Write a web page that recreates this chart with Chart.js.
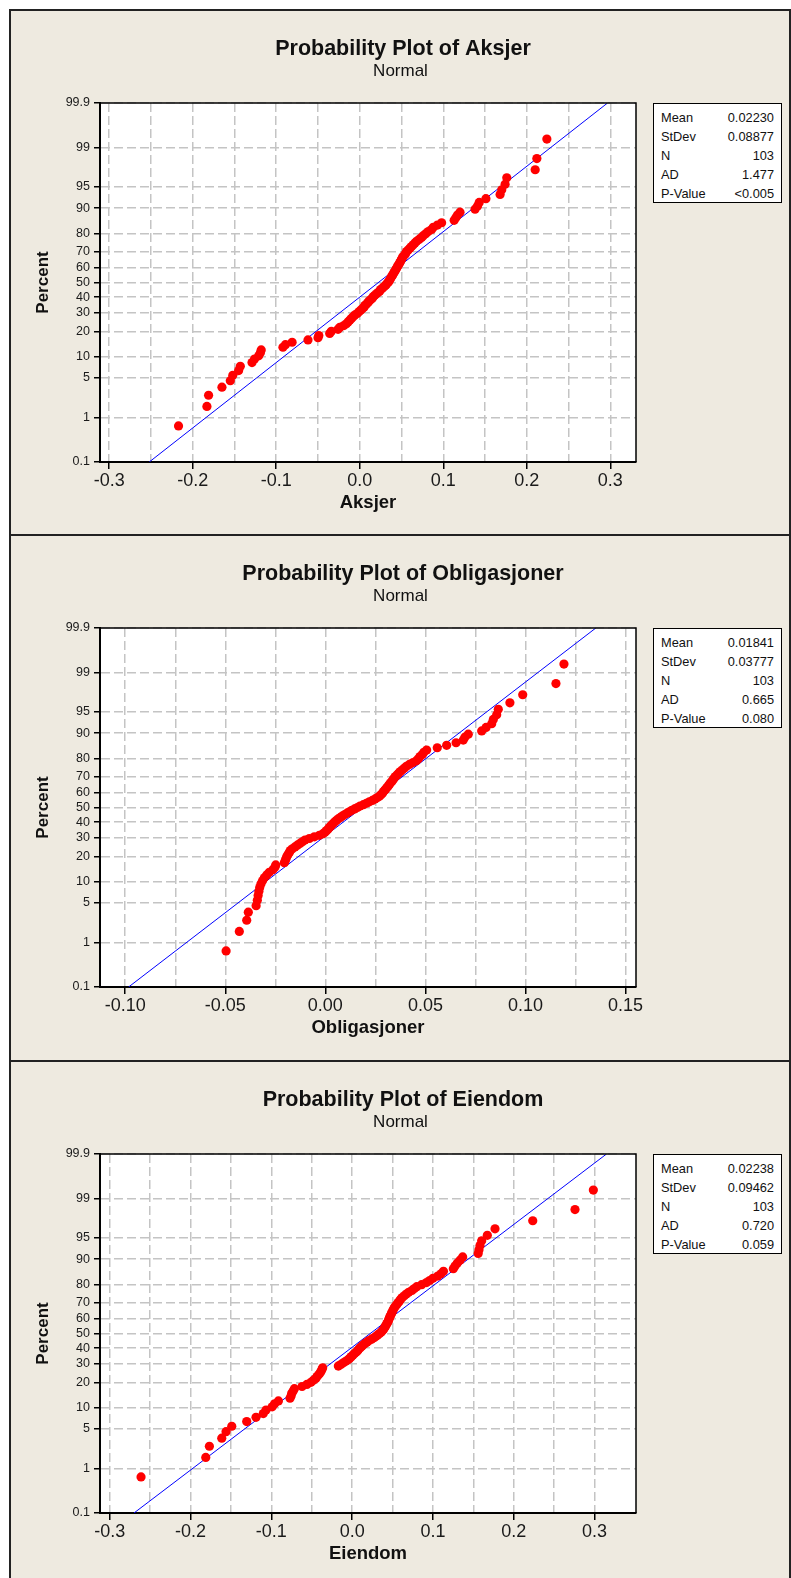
<!DOCTYPE html>
<html lang="no">
<head>
<meta charset="utf-8">
<title>Probability Plots</title>
<script src="https://cdn.jsdelivr.net/npm/chart.js@4/dist/chart.umd.min.js"></script>
<style>
  html, body { margin: 0; padding: 0; background: #fff; }
  body { position: relative; width: 791px; height: 1578px; overflow: hidden; font-family: 'Liberation Sans', Arial, sans-serif; }
  .panel { position: absolute; left: 9px; width: 781px; height: 526px; background: #eeeae0; }
  .panel canvas { position: absolute; left: 0; top: 0; }
  .rule { position: absolute; background: #222; }
  .stats { position: absolute; left: 644px; top: 93px; width: 129px; height: 100px; box-sizing: border-box;
           border: 1.5px solid #000; background: #fff; padding: 3.5px 7px 0 7px; font-size: 12.8px; color: #111; }
  .stats div { display: flex; justify-content: space-between; height: 19.2px; line-height: 19.2px; }
</style>
</head>
<body>
<div class="panel" style="top:10px"><canvas id="aksjer" width="781" height="526"></canvas><div class="stats" id="aksjer-stats"></div></div>
<div class="panel" style="top:535px"><canvas id="oblig" width="781" height="526"></canvas><div class="stats" id="oblig-stats"></div></div>
<div class="panel" style="top:1061px;height:530px"><canvas id="eiendom" width="781" height="526"></canvas><div class="stats" id="eiendom-stats"></div></div>

<div class="rule" style="left:9px;top:9px;width:782px;height:2px"></div>
<div class="rule" style="left:9px;top:534px;width:782px;height:2px"></div>
<div class="rule" style="left:9px;top:1060px;width:782px;height:2px"></div>
<div class="rule" style="left:9px;top:9px;width:1.5px;height:1569px"></div>
<div class="rule" style="left:789px;top:9px;width:2px;height:1569px"></div>

<script>
// probability axis (normal scale), percent labels
const PERCENT_TICKS = [0.1, 1, 5, 10, 20, 30, 40, 50, 60, 70, 80, 90, 95, 99, 99.9];
const STAT_NAMES = ['Mean', 'StDev', 'N', 'AD', 'P-Value'];

// ---- Aksjer ----
const AKSJER = [
  -0.217, -0.183, -0.181, -0.165, -0.155, -0.152, -0.145, -0.143, -0.129, -0.126,
  -0.121, -0.119, -0.118, -0.092, -0.089, -0.081, -0.062, -0.050, -0.049, -0.036,
  -0.034, -0.026, -0.024, -0.019, -0.016, -0.014, -0.012, -0.010, -0.008, -0.006,
  -0.003, -0.001, 0.001, 0.003, 0.005, 0.006, 0.008, 0.010, 0.011, 0.013,
  0.015, 0.016, 0.018, 0.020, 0.022, 0.024, 0.025, 0.027, 0.029, 0.031,
  0.032, 0.034, 0.035, 0.036, 0.037, 0.038, 0.039, 0.040, 0.041, 0.042,
  0.043, 0.044, 0.045, 0.046, 0.047, 0.048, 0.049, 0.050, 0.051, 0.052,
  0.054, 0.055, 0.056, 0.058, 0.060, 0.062, 0.064, 0.066, 0.068, 0.071,
  0.074, 0.076, 0.079, 0.082, 0.086, 0.088, 0.093, 0.098, 0.113, 0.115,
  0.117, 0.120, 0.138, 0.141, 0.143, 0.151, 0.168, 0.170, 0.174, 0.176,
  0.210, 0.212, 0.224
];
const AKSJER_STATS = ['0.02230', '0.08877', '103', '1.477', '<0.005'];
const AKSJER_XTICKS = [-0.3, -0.25, -0.2, -0.15, -0.1, -0.05, 0, 0.05, 0.1, 0.15, 0.2, 0.25, 0.3];
const AKSJER_XLABELS = ['-0.3', '', '-0.2', '', '-0.1', '', '0.0', '', '0.1', '', '0.2', '', '0.3'];

// ---- Obligasjoner ----
const OBLIG = [
  -0.0496, -0.0430, -0.0393, -0.0385, -0.0346, -0.0340, -0.0336, -0.0332, -0.0328, -0.0322,
  -0.0314, -0.0305, -0.0293, -0.0280, -0.0262, -0.0252, -0.0248, -0.0205, -0.0200, -0.0196,
  -0.0192, -0.0186, -0.0180, -0.0175, -0.0165, -0.0152, -0.0140, -0.0127, -0.0115, -0.0102,
  -0.0080, -0.0055, -0.0030, -0.0012, -0.0002, 0.0006, 0.0014, 0.0020, 0.0026, 0.0033,
  0.0040, 0.0048, 0.0056, 0.0065, 0.0075, 0.0085, 0.0097, 0.0108, 0.0120, 0.0132,
  0.0146, 0.0160, 0.0173, 0.0190, 0.0205, 0.0220, 0.0235, 0.0248, 0.0260, 0.0270,
  0.0278, 0.0285, 0.0290, 0.0296, 0.0302, 0.0308, 0.0314, 0.0320, 0.0326, 0.0333,
  0.0338, 0.0343, 0.0350, 0.0358, 0.0366, 0.0375, 0.0385, 0.0395, 0.0405, 0.0420,
  0.0438, 0.0455, 0.0465, 0.0473, 0.0485, 0.0492, 0.0506, 0.0559, 0.0606, 0.0653,
  0.0689, 0.0697, 0.0714, 0.0781, 0.0803, 0.0831, 0.0839, 0.0856, 0.0864, 0.0922,
  0.0986, 0.1152, 0.1192
];
const OBLIG_STATS = ['0.01841', '0.03777', '103', '0.665', '0.080'];
const OBLIG_XTICKS = [-0.1, -0.075, -0.05, -0.025, 0, 0.025, 0.05, 0.075, 0.1, 0.125, 0.15];
const OBLIG_XLABELS = ['-0.10', '', '-0.05', '', '0.00', '', '0.05', '', '0.10', '', '0.15'];

// ---- Eiendom ----
const EIENDOM = [
  -0.2613, -0.1812, -0.1767, -0.1614, -0.1561, -0.1490, -0.1305, -0.1190, -0.1100, -0.1066,
  -0.0990, -0.0960, -0.0913, -0.0769, -0.0755, -0.0748, -0.0730, -0.0715, -0.0620, -0.0560,
  -0.0510, -0.0480, -0.0450, -0.0435, -0.0415, -0.0398, -0.0385, -0.0375, -0.0365, -0.0171,
  -0.0140, -0.0109, -0.0080, -0.0050, -0.0030, -0.0010, 0.0010, 0.0030, 0.0050, 0.0068,
  0.0080, 0.0100, 0.0120, 0.0138, 0.0160, 0.0185, 0.0210, 0.0240, 0.0270, 0.0295,
  0.0315, 0.0340, 0.0360, 0.0375, 0.0390, 0.0400, 0.0410, 0.0420, 0.0430, 0.0440,
  0.0448, 0.0455, 0.0462, 0.0470, 0.0478, 0.0486, 0.0495, 0.0505, 0.0515, 0.0525,
  0.0540, 0.0555, 0.0570, 0.0585, 0.0600, 0.0620, 0.0645, 0.0670, 0.0700, 0.0740,
  0.0770, 0.0800, 0.0860, 0.0920, 0.0960, 0.1000, 0.1060, 0.1100, 0.1130, 0.1252,
  0.1273, 0.1300, 0.1335, 0.1368, 0.1560, 0.1570, 0.1582, 0.1603, 0.1673, 0.1768,
  0.2235, 0.2758, 0.2985
];
const EIENDOM_STATS = ['0.02238', '0.09462', '103', '0.720', '0.059'];
const EIENDOM_XTICKS = AKSJER_XTICKS;
const EIENDOM_XLABELS = AKSJER_XLABELS;

// inverse standard normal CDF (Acklam)
function probit(p) {
  const a = [-39.69683028665376, 220.9460984245205, -275.9285104469687, 138.3577518672690, -30.66479806614716, 2.506628277459239];
  const b = [-54.47609879822406, 161.5858368580409, -155.6989798598866, 66.80131188771972, -13.28068155288572];
  const c = [-0.007784894002430293, -0.3223964580411365, -2.400758277161838, -2.549732539343734, 4.374664141464968, 2.938163982698783];
  const d = [0.007784695709041462, 0.3224671290700398, 2.445134137142996, 3.754408661907416];
  const lo = 0.02425;
  if (p < lo) {
    const q = Math.sqrt(-2 * Math.log(p));
    return (((((c[0]*q + c[1])*q + c[2])*q + c[3])*q + c[4])*q + c[5]) / ((((d[0]*q + d[1])*q + d[2])*q + d[3])*q + 1);
  }
  if (p > 1 - lo) return -probit(1 - p);
  const q = p - 0.5, r = q * q;
  return (((((a[0]*r + a[1])*r + a[2])*r + a[3])*r + a[4])*r + a[5]) * q /
         (((((b[0]*r + b[1])*r + b[2])*r + b[3])*r + b[4])*r + 1);
}

const Z_TOP = probit(PERCENT_TICKS[PERCENT_TICKS.length - 1] / 100);
const Z_BOTTOM = probit(PERCENT_TICKS[0] / 100);
const GRID = '#c4c4c4';
const FONT = "'Liberation Sans', Arial, sans-serif";

Chart.defaults.font.family = FONT;
Chart.defaults.color = '#1a1a1a';

// white plot area, thin top/right frame and the two-line heading
const frame = {
  id: 'frame',
  beforeDraw(chart) {
    const { ctx, chartArea: a } = chart;
    ctx.save();
    ctx.fillStyle = '#fff';
    ctx.fillRect(a.left, a.top, a.right - a.left, a.bottom - a.top);
    ctx.restore();
  },
  afterDraw(chart, args, opts) {
    const { ctx, chartArea: a } = chart;
    ctx.save();
    ctx.strokeStyle = '#000';
    ctx.lineWidth = 1.5;
    ctx.beginPath();
    ctx.moveTo(a.left, a.top);
    ctx.lineTo(a.right, a.top);
    ctx.lineTo(a.right, a.bottom);
    ctx.stroke();
    ctx.fillStyle = '#111';
    ctx.textAlign = 'center';
    ctx.textBaseline = 'alphabetic';
    ctx.font = 'bold 21.5px ' + FONT;
    ctx.fillText(opts.title, 394, 45);
    ctx.font = '17px ' + FONT;
    ctx.fillText('Normal', 391.5, 66);
    ctx.restore();
  }
};

function probPlot(id, name, values, stats, xTicks, xLabels, xMin, xMax) {
  const n = values.length;
  const sorted = [...values].sort((p, q) => p - q);
  // median-rank plotting positions
  const points = sorted.map((v, i) => ({ x: v, y: probit((i + 1 - 0.3) / (n + 0.4)) }));
  const mean = parseFloat(stats[0]);
  const sd = parseFloat(stats[1]);
  const fit = [
    { x: mean + sd * Z_BOTTOM, y: Z_BOTTOM },
    { x: mean + sd * Z_TOP, y: Z_TOP }
  ];

  const box = document.getElementById(id + '-stats');
  box.innerHTML = STAT_NAMES.map((s, i) => `<div><span>${s}</span><span>${stats[i]}</span></div>`).join('');

  new Chart(document.getElementById(id), {
    type: 'scatter',
    data: {
      datasets: [
        { data: points, backgroundColor: '#ff0000', borderWidth: 0, pointRadius: 4.6, pointHoverRadius: 4.6 },
        { type: 'line', data: fit, borderColor: '#0000ff', borderWidth: 1, pointRadius: 0, fill: false, tension: 0 }
      ]
    },
    options: {
      responsive: false,
      animation: false,
      events: [],
      layout: { padding: { left: 0, top: 93, right: 154, bottom: 22 } },
      plugins: {
        legend: { display: false },
        tooltip: { enabled: false },
        frame: { title: 'Probability Plot of ' + name }
      },
      scales: {
        x: {
          type: 'linear',
          min: xMin,
          max: xMax,
          afterBuildTicks: s => { s.ticks = xTicks.map(v => ({ value: v })); },
          afterFit: s => { s.height = 52; },
          grid: {
            color: GRID, lineWidth: 1.5, tickLength: 7, tickWidth: 1.5,
            tickColor: c => (xLabels[c.index] ? '#000' : 'rgba(0,0,0,0)')
          },
          border: { color: '#000', width: 2, dash: [9, 4] },
          ticks: {
            autoSkip: false, maxRotation: 0, padding: 1,
            font: { size: 18 }, color: '#1a1a1a',
            callback: (v, i) => xLabels[i]
          },
          title: {
            display: true, text: name, color: '#111',
            font: { size: 18.5, weight: 'bold' }, padding: { top: 0, bottom: 0 }
          }
        },
        y: {
          type: 'linear',
          min: Z_BOTTOM,
          max: Z_TOP,
          afterBuildTicks: s => { s.ticks = PERCENT_TICKS.map(p => ({ value: probit(p / 100) })); },
          afterFit: s => { s.width = 91; },
          grid: { color: GRID, lineWidth: 1.5, tickLength: 6, tickWidth: 1.5, tickColor: '#000' },
          border: { color: '#000', width: 2, dash: [9, 4] },
          ticks: {
            autoSkip: false, padding: 4,
            font: { size: 12.5 }, color: '#1a1a1a',
            callback: (v, i) => String(PERCENT_TICKS[i])
          },
          title: {
            display: true, text: 'Percent', color: '#111',
            font: { size: 17, weight: 'bold' }, padding: { top: 24, bottom: 0 }
          }
        }
      }
    },
    plugins: [frame]
  });
}

probPlot('aksjer', 'Aksjer', AKSJER, AKSJER_STATS, AKSJER_XTICKS, AKSJER_XLABELS, -0.311, 0.3307);
probPlot('oblig', 'Obligasjoner', OBLIG, OBLIG_STATS, OBLIG_XTICKS, OBLIG_XLABELS, -0.1126, 0.1552);
probPlot('eiendom', 'Eiendom', EIENDOM, EIENDOM_STATS, EIENDOM_XTICKS, EIENDOM_XLABELS, -0.3121, 0.3513);
</script>
</body>
</html>
